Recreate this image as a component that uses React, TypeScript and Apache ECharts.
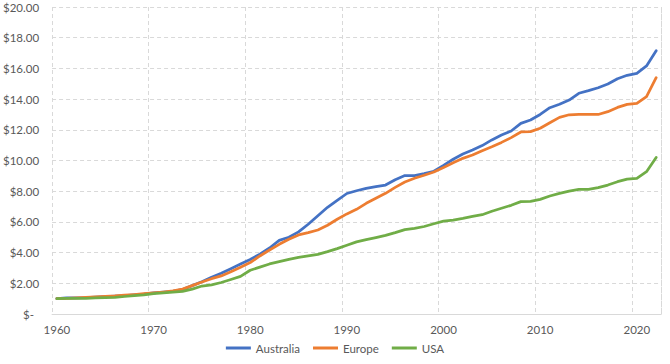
import React, { useEffect, useRef } from "react";
import * as echarts from "echarts";

const years: string[] = [];
for (let y = 1960; y <= 2022; y++) years.push(String(y));

const australia = [
  1.0, 1.05, 1.05, 1.06, 1.1, 1.13, 1.16, 1.2, 1.25, 1.3,
  1.37, 1.42, 1.48, 1.6, 1.85, 2.1, 2.4, 2.65, 2.95, 3.25,
  3.55, 3.9, 4.3, 4.8, 5.0, 5.35, 5.85, 6.4, 6.95, 7.4,
  7.85, 8.03, 8.18, 8.3, 8.4, 8.75, 9.02, 9.02, 9.14, 9.3,
  9.68, 10.08, 10.42, 10.68, 10.97, 11.34, 11.66, 11.92, 12.42, 12.64,
  13.0, 13.44, 13.66, 13.94, 14.38, 14.55, 14.74, 14.98, 15.33, 15.55,
  15.68, 16.16, 17.15,
];

const europe = [
  1.0, 1.02, 1.05, 1.08, 1.12, 1.15, 1.18, 1.23, 1.27, 1.32,
  1.37, 1.43, 1.5, 1.62, 1.85, 2.08, 2.3, 2.48, 2.75, 3.05,
  3.35, 3.78, 4.17, 4.54, 4.87, 5.15, 5.3, 5.47, 5.78, 6.17,
  6.52, 6.82, 7.21, 7.54, 7.86, 8.25, 8.6, 8.84, 9.04, 9.25,
  9.55, 9.86, 10.14, 10.36, 10.64, 10.9, 11.18, 11.49, 11.86, 11.88,
  12.1, 12.46, 12.81, 12.98, 13.0, 13.0, 13.0, 13.18, 13.46, 13.66,
  13.72, 14.16, 15.4,
];

const usa = [
  1.0, 1.01, 1.01, 1.02, 1.05, 1.07, 1.09, 1.14, 1.19, 1.25,
  1.33, 1.38, 1.42, 1.47, 1.62, 1.82, 1.9, 2.05, 2.25, 2.45,
  2.85, 3.05, 3.26, 3.41, 3.56, 3.69, 3.78, 3.88, 4.06, 4.26,
  4.48, 4.7, 4.85, 4.98, 5.12, 5.3, 5.5, 5.58, 5.7, 5.88,
  6.05, 6.12, 6.23, 6.36, 6.47, 6.69, 6.89, 7.08, 7.32, 7.34,
  7.47, 7.69, 7.86, 8.01, 8.12, 8.12, 8.23, 8.4, 8.62, 8.79,
  8.84, 9.27, 10.2,
];

const seriesNames = ["Australia", "Europe", "USA"];
const colors = ["#4472C4", "#ED7D31", "#70AD47"];

export default function App() {
  const ref = useRef<HTMLDivElement>(null);
  useEffect(() => {
    if (!ref.current) return;
    document.body.style.margin = "0";
    const chart = echarts.init(ref.current, null, { renderer: "svg" });
    const font = "Lato, 'Open Sans', sans-serif";
    const data = [australia, europe, usa];
    const grid = { color: "#d9d9d9", type: [4, 3], width: 1 };
    chart.setOption({
      animation: false,
      color: colors,
      grid: { left: 50, right: 9, top: 7, bottom: 50, containLabel: false },
      legend: {
        bottom: 5,
        left: "center",
        icon: "rect",
        itemWidth: 25,
        itemHeight: 3,
        itemGap: 13,
        textStyle: { color: "#595959", fontSize: 11.5, fontFamily: font },
        data: seriesNames,
      },
      xAxis: {
        type: "category",
        data: years,
        boundaryGap: true,
        axisLine: { show: true, lineStyle: { color: "#d9d9d9", width: 1 } },
        axisTick: { show: false, interval: 9 },
        axisLabel: {
          interval: 9,
          color: "#595959",
          fontSize: 11.5,
          fontFamily: font,
          margin: 9,
        },
        splitLine: { show: true, interval: 9, lineStyle: grid },
      },
      yAxis: [
        {
          type: "value",
          min: 0,
          max: 20,
          interval: 2,
          axisLine: { show: false },
          axisTick: { show: false },
          axisLabel: {
            color: "#595959",
            fontSize: 11.5,
            fontFamily: font,
            margin: 13,
            formatter: (v: number) => (v === 0 ? "{z|$-}" : "$" + v.toFixed(2)),
            rich: {
              z: { color: "#595959", fontSize: 11.5, fontFamily: font, padding: [0, 5, 0, 0] },
            },
          },
          splitLine: { show: true, lineStyle: grid },
        },
        {
          type: "value",
          position: "right",
          min: 0,
          max: 20,
          interval: 2,
          axisLine: { show: true, lineStyle: grid },
          axisTick: { show: false },
          axisLabel: { show: false },
          splitLine: { show: false },
        },
      ],
      series: seriesNames.map((name, i) => ({
        name,
        type: "line",
        data: data[i],
        showSymbol: false,
        symbol: "none",
        lineStyle: { width: 2.75, color: colors[i], cap: "round", join: "round" },
        itemStyle: { color: colors[i] },
      })),
    });
    return () => chart.dispose();
  }, []);
  return <div ref={ref} style={{ width: 670, height: 364 }} />;
}
